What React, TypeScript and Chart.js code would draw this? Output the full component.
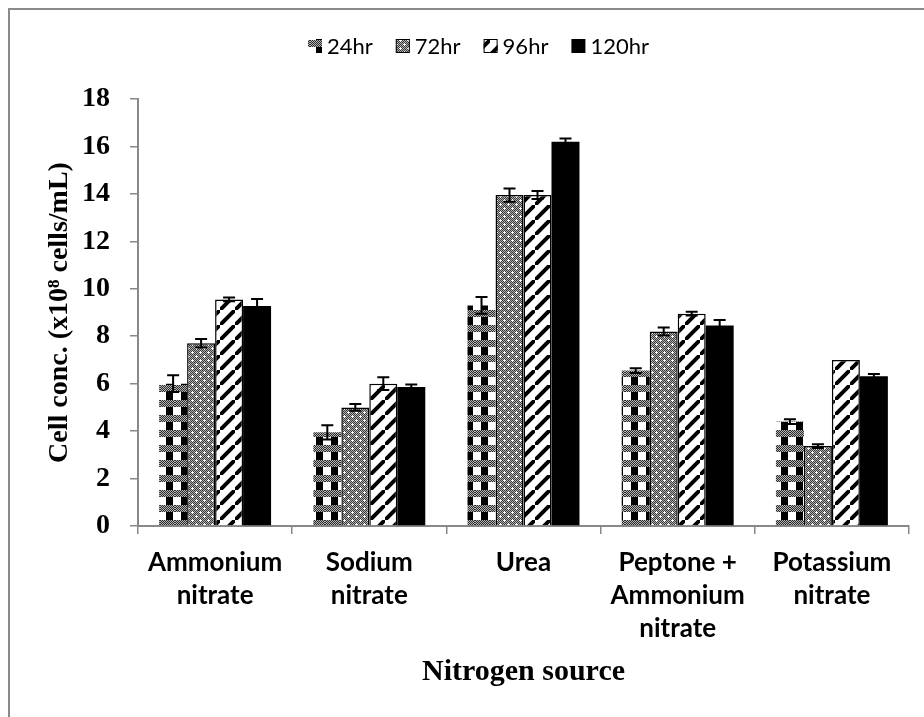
import React, { useEffect, useRef } from "react";
import { Chart, registerables } from "chart.js";

Chart.register(...registerables);

const categories: (string | string[])[] = [
  ["Ammonium", "nitrate"],
  ["Sodium", "nitrate"],
  "Urea",
  ["Peptone +", "Ammonium", "nitrate"],
  ["Potassium", "nitrate"],
];
const seriesLabels = ["24hr", "72hr", "96hr", "120hr"];
const values24 = [6.0, 3.95, 9.3, 6.55, 4.4];
const values72 = [7.7, 5.0, 13.95, 8.2, 3.37];
const values96 = [9.55, 6.0, 13.95, 8.95, 7.0];
const values120 = [9.27, 5.86, 16.2, 8.45, 6.31];
const err24 = [0.35, 0.3, 0.35, 0.1, 0.1];
const err72 = [0.18, 0.14, 0.28, 0.17, 0.08];
const err96 = [0.08, 0.27, 0.17, 0.08, 0];
const err120 = [0.3, 0.1, 0.14, 0.23, 0.1];
const yMin = 0;
const yMax = 18;
const yStep = 2;

const errorSets = [err24, err72, err96, err120];

function makePattern(kind: string): CanvasPattern | string {
  const c = document.createElement("canvas");
  const size = kind === "plaid" ? 15 : kind === "dots" ? 8 : 15;
  c.width = size;
  c.height = size;
  const g = c.getContext("2d")!;
  if (kind === "plaid") {
    g.fillStyle = "#fff";
    g.fillRect(0, 0, size, size);
    g.fillStyle = "#000";
    g.fillRect(6, 0, 7, size);
    for (let y = 0; y < 7; y++) {
      for (let x = 0; x < size; x++) {
        g.fillStyle = (x + y) % 2 === 0 ? "#2a2a2a" : "#b5b5b5";
        g.fillRect(x, y, 1, 1);
      }
    }
  } else if (kind === "dots") {
    for (let y = 0; y < size; y++) {
      for (let x = 0; x < size; x++) {
        g.fillStyle = (x + y) % 2 === 0 ? "#3a3a3a" : "#b0b0b0";
        g.fillRect(x, y, 1, 1);
      }
    }
    g.fillStyle = "#fff";
    const plus = (cx: number, cy: number) => {
      g.fillRect(cx, cy, 1, 1);
      g.fillRect(cx - 1, cy, 1, 1);
      g.fillRect(cx + 1, cy, 1, 1);
      g.fillRect(cx, cy - 1, 1, 1);
      g.fillRect(cx, cy + 1, 1, 1);
    };
    plus(2, 2);
    plus(6, 6);
  } else if (kind === "diag") {
    g.fillStyle = "#fff";
    g.fillRect(0, 0, size, size);
    g.strokeStyle = "#000";
    g.lineWidth = 4;
    g.beginPath();
    g.moveTo(-2, size + 2);
    g.lineTo(size + 2, -2);
    g.moveTo(-size - 2, 2);
    g.lineTo(2, -size - 2);
    g.moveTo(size - 2, 2 * size + 2);
    g.lineTo(2 * size + 2, size - 2);
    g.stroke();
  } else {
    return "#000";
  }
  return g.createPattern(c, "repeat")!;
}

const errorBarPlugin = {
  id: "errorBars",
  afterDatasetsDraw(chart: any) {
    const ctx = chart.ctx;
    const yScale = chart.scales.y;
    ctx.save();
    ctx.strokeStyle = "#000";
    ctx.lineWidth = 2;
    chart.data.datasets.forEach((ds: any, i: number) => {
      const meta = chart.getDatasetMeta(i);
      const errs = errorSets[i];
      meta.data.forEach((bar: any, j: number) => {
        const e = errs[j];
        if (!e) return;
        const v = ds.data[j];
        const top = yScale.getPixelForValue(v + e);
        const bot = yScale.getPixelForValue(v - e);
        const x = bar.x;
        ctx.beginPath();
        ctx.moveTo(x, top);
        ctx.lineTo(x, bot);
        ctx.moveTo(x - 6, top);
        ctx.lineTo(x + 6, top);
        ctx.moveTo(x - 6, bot);
        ctx.lineTo(x + 6, bot);
        ctx.stroke();
      });
    });
    ctx.restore();
  },
};

const legendPlugin = {
  id: "customLegend",
  afterDraw(chart: any) {
    const ctx = chart.ctx;
    ctx.save();
    ctx.font = "22px Lato";
    ctx.textBaseline = "middle";
    ctx.textAlign = "left";
    let x = 298;
    const y = 36;
    chart.data.datasets.forEach((ds: any) => {
      ctx.fillStyle = ds.backgroundColor;
      ctx.fillRect(x, y - 7, 14, 14);
      if (ds.borderWidth) {
        ctx.strokeStyle = "#000";
        ctx.lineWidth = 1;
        ctx.strokeRect(x + 0.5, y - 6.5, 13, 13);
      }
      x += 14 + 5;
      ctx.fillStyle = "#000";
      ctx.fillText(ds.label, x, y + 1);
      x += ctx.measureText(ds.label).width + 23;
    });
    ctx.restore();
  },
};

export default function App() {
  const ref = useRef<HTMLCanvasElement>(null);
  useEffect(() => {
    if (!ref.current) return;
    const patterns = [
      makePattern("plaid"),
      makePattern("dots"),
      makePattern("diag"),
      makePattern("solid"),
    ];
    const seriesValues = [values24, values72, values96, values120];
    const chart = new Chart(ref.current, {
      type: "bar",
      data: {
        labels: categories,
        datasets: seriesLabels.map((label, i) => ({
          label,
          data: seriesValues[i],
          backgroundColor: patterns[i] as any,
          borderColor: "#000",
          borderWidth: i === 1 || i === 2 ? 1.5 : 0,
          borderSkipped: "bottom" as const,
          categoryPercentage: 0.726,
          barPercentage: 1,
        })),
      },
      options: {
        responsive: false,
        animation: false,
        layout: { padding: { top: 89, right: 15, bottom: 0, left: 0 } },
        plugins: {
          legend: { display: false },
          tooltip: { enabled: false },
          title: { display: false },
        },
        scales: {
          x: {
            afterFit: (s: any) => {
              s.height = 191;
            },
            border: { display: true, color: "#888", width: 2 },
            grid: {
              offset: true,
              drawOnChartArea: false,
              drawTicks: true,
              tickLength: 8,
              color: "#888",
              lineWidth: 1.5,
            },
            ticks: {
              autoSkip: false,
              maxRotation: 0,
              minRotation: 0,
              padding: 12,
              color: "#000",
              font: { family: "Lato", weight: "bold", size: 26, lineHeight: 1.27 },
            },
            title: {
              display: true,
              text: "Nitrogen source",
              color: "#000",
              font: { family: "Liberation Serif", weight: "bold", size: 30 },
              padding: { top: 4, bottom: 27 },
            },
          },
          y: {
            min: yMin,
            max: yMax,
            afterFit: (s: any) => {
              s.width = 128;
            },
            border: { display: true, color: "#888", width: 2 },
            grid: {
              drawOnChartArea: false,
              drawTicks: true,
              tickLength: 8,
              color: "#888",
              lineWidth: 1.5,
            },
            ticks: {
              stepSize: yStep,
              padding: 20,
              color: "#000",
              font: { family: "Liberation Serif", weight: "bold", size: 28 },
            },
            title: {
              display: true,
              text: "Cell conc. (x10\u2078 cells/mL)",
              color: "#000",
              font: { family: "Liberation Serif", weight: "bold", size: 28 },
              padding: { top: 33, bottom: 0 },
            },
          },
        },
      },
      plugins: [errorBarPlugin, legendPlugin],
    });
    return () => chart.destroy();
  }, []);

  return (
    <div
      style={{
        position: "fixed",
        left: 8,
        top: 8,
        width: 916,
        height: 709,
        boxSizing: "border-box",
        borderTop: "2px solid #8a8a8a",
        borderLeft: "2px solid #8a8a8a",
        background: "#fff",
      }}
    >
      <canvas ref={ref} width={914} height={707} style={{ display: "block", width: 914, height: 707 }} />
    </div>
  );
}
